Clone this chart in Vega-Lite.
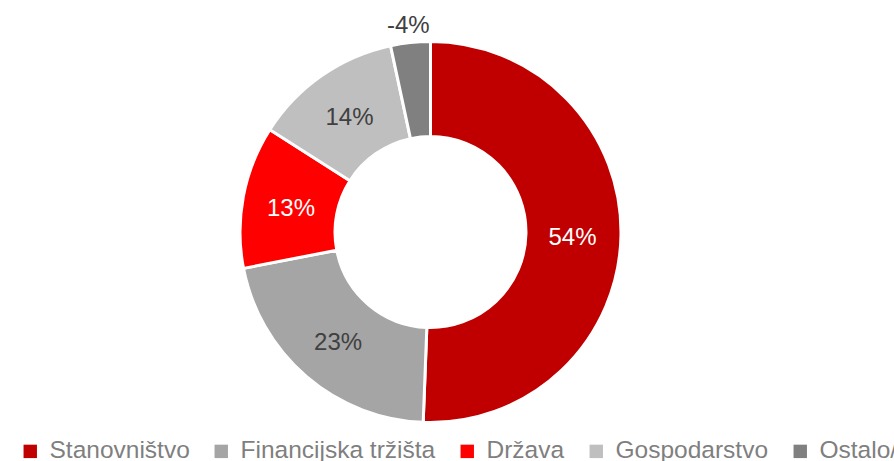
{
  "$schema": "https://vega.github.io/schema/vega-lite/v6.json",
  "width": 861,
  "height": 464,
  "autosize": {"type": "none"},
  "padding": {"left": 0, "top": 0, "right": 40, "bottom": 0},
  "background": "white",
  "config": {"view": {"stroke": null}, "font": "Liberation Sans"},
  "data": {
    "values": [
      {"sector": "Stanovništvo", "rank": 1, "value": 54.66, "label": "54%"},
      {"sector": "Financijska tržišta", "rank": 2, "value": 23.04, "label": "23%"},
      {"sector": "Država", "rank": 3, "value": 13.05, "label": "13%"},
      {"sector": "Gospodarstvo", "rank": 4, "value": 13.62, "label": "14%"},
      {"sector": "Ostalo/neraspoređeno", "rank": 5, "value": 3.63, "label": "-4%"}
    ]
  },
  "encoding": {
    "theta": {"field": "value", "type": "quantitative", "stack": true},
    "order": {"field": "rank", "type": "quantitative"}
  },
  "layer": [
    {
      "mark": {"type": "arc", "outerRadius": 190.5, "innerRadius": 95.5, "stroke": "white", "strokeWidth": 3},
      "encoding": {
        "color": {
          "field": "sector",
          "type": "nominal",
          "sort": ["Stanovništvo", "Financijska tržišta", "Država", "Gospodarstvo", "Ostalo/neraspoređeno"],
          "scale": {
            "domain": ["Stanovništvo", "Financijska tržišta", "Država", "Gospodarstvo", "Ostalo/neraspoređeno"],
            "range": ["#C00000", "#A5A5A5", "#FF0000", "#BFBFBF", "#808080"]
          },
          "legend": {
            "title": null,
            "orient": "none",
            "direction": "horizontal",
            "columns": 5,
            "legendX": 18,
            "legendY": 439,
            "symbolType": "square",
            "symbolSize": 180,
            "symbolStrokeWidth": 0,
            "labelFont": "Liberation Sans",
            "labelFontSize": 24.5,
            "labelColor": "#7F7F7F",
            "labelOffset": 7,
            "columnPadding": 19,
            "labelLimit": 400
          }
        }
      }
    },
    {
      "mark": {"type": "text", "radius": 142, "font": "Liberation Sans", "fontSize": 24, "dy": 3},
      "encoding": {
        "detail": {"field": "sector"},
        "text": {"condition": {"test": "datum.rank !== 5", "field": "label"}, "value": ""},
        "color": {
          "condition": {"test": "datum.rank === 1 || datum.rank === 3", "value": "#FFFFFF"},
          "value": "#404040"
        }
      }
    },
    {
      "mark": {"type": "text", "radius": 210, "font": "Liberation Sans", "fontSize": 24, "dy": 3},
      "encoding": {
        "detail": {"field": "sector"},
        "text": {"condition": {"test": "datum.rank === 5", "field": "label"}, "value": ""},
        "color": {"value": "#404040"}
      }
    }
  ]
}
